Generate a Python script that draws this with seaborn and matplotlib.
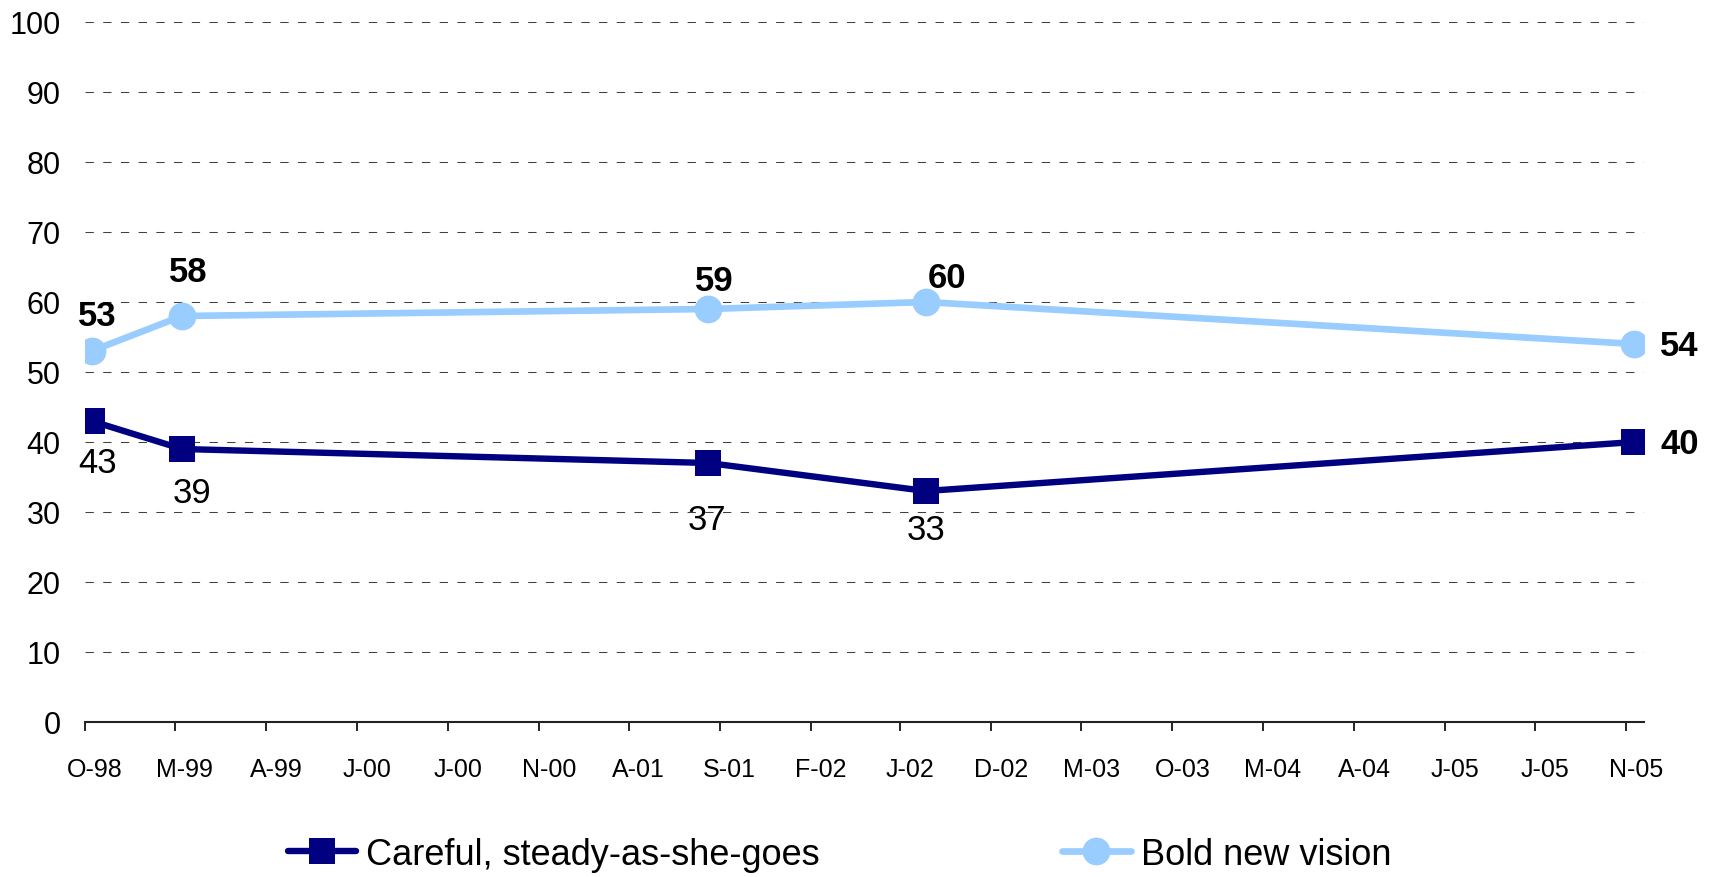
import matplotlib
matplotlib.use("Agg")
import matplotlib.pyplot as plt
import matplotlib.transforms as mtransforms
from matplotlib import font_manager
import seaborn as sns
import pandas as pd

# ---------------- data ----------------
survey_dates = ["1998-10-12", "1999-03-13", "2001-08-13", "2002-08-13", "2005-11-15"]
careful = [43, 39, 37, 33, 40]
bold = [53, 58, 59, 60, 54]
series_names = ["Careful, steady-as-she-goes", "Bold new vision"]
tick_labels = ["O-98", "M-99", "A-99", "J-00", "J-00", "N-00", "A-01", "S-01", "F-02",
               "J-02", "D-02", "M-03", "O-03", "M-04", "A-04", "J-05", "J-05", "N-05"]
y_ticks = [0, 10, 20, 30, 40, 50, 60, 70, 80, 90, 100]

# ---------------- style ----------------
sns.set_style("white")
plt.rcParams["font.family"] = ["Liberation Sans", "DejaVu Sans"]
for k in ["text.color", "axes.labelcolor", "xtick.color", "ytick.color"]:
    plt.rcParams[k] = "black"

names = {f.name for f in font_manager.fontManager.ttflist}
if "Liberation Sans Narrow" in names:
    xfont, xsize = "Liberation Sans Narrow", 21
else:
    xfont, xsize = "Liberation Sans", 18

dark = "#000080"
light = "#99CCFF"

fig = plt.figure(figsize=(17.15, 8.78), dpi=100)
ax = fig.add_axes([85 / 1715, 1 - 723 / 878, (1644 - 85) / 1715, (723 - 23) / 878])

dates = pd.to_datetime(survey_dates)
df_c = pd.DataFrame({"date": dates, "value": careful})
df_b = pd.DataFrame({"date": dates, "value": bold})

sns.lineplot(data=df_c, x="date", y="value", ax=ax, color=dark, linewidth=4.6,
             marker="s", markersize=19, markeredgewidth=0, label=series_names[0], zorder=3)
sns.lineplot(data=df_b, x="date", y="value", ax=ax, color=light, linewidth=4.8,
             marker="o", markersize=20, markeredgewidth=0, label=series_names[1], zorder=3)

# axes limits / ticks
ticks = pd.date_range("1998-10-01", periods=len(tick_labels), freq="5MS")
ax.set_xlim(pd.Timestamp("1998-10-01"), pd.Timestamp("2005-12-01"))
ax.set_ylim(0, 100)
ax.set_xticks(ticks)
ax.set_xticklabels(tick_labels, fontsize=xsize, family=[xfont, "DejaVu Sans"])
ax.set_yticks(y_ticks)
ax.set_yticklabels([str(v) for v in y_ticks], fontsize=22)
ax.tick_params(axis="x", direction="out", length=6.5, width=1.2, color="black", pad=19, bottom=True)
ax.tick_params(axis="y", length=0, pad=17.5)
ax.set_xlabel("")
ax.set_ylabel("")

offset = mtransforms.ScaledTranslation(10 / 100, 0, fig.dpi_scale_trans)
for lab in ax.get_xticklabels():
    lab.set_transform(lab.get_transform() + offset)

ax.yaxis.grid(True, linestyle=(0, (8, 9)), color="#404040", linewidth=0.75)
ax.xaxis.grid(False)
for s in ["top", "right", "left"]:
    ax.spines[s].set_visible(False)
ax.spines["bottom"].set_color("#222222")
ax.spines["bottom"].set_linewidth(1.5)
ax.spines["bottom"].set_zorder(4)

# data labels (offsets in points)
bold_offsets = [(4.3, 25.9), (4.3, 31.7), (4.3, 20.2), (15.1, 17.3), (32.4, -1.4)]
care_offsets = [(4.3, -30.2), (7.2, -31), (-1.4, -41), (0, -28), (32.4, -1.4)]
care_weights = ["normal", "normal", "normal", "normal", "bold"]
for d, v, off in zip(dates, bold, bold_offsets):
    ax.annotate(str(v), (d, v), xytext=off, textcoords="offset points",
                ha="center", va="center", fontsize=25, fontweight="bold", color="black")
for d, v, off, w in zip(dates, careful, care_offsets, care_weights):
    ax.annotate(str(v), (d, v), xytext=off, textcoords="offset points",
                ha="center", va="center", fontsize=25, fontweight=w, color="black")

# legend
handles, labels = ax.get_legend_handles_labels()
ax.legend(handles, labels, loc="center", bbox_to_anchor=(0.4895, 0.026),
          bbox_transform=fig.transFigure, ncol=2, frameon=False, fontsize=26,
          handlelength=1.9, handletextpad=0.28, columnspacing=6.7, borderpad=0)

fig.savefig("out.png", dpi=100)
